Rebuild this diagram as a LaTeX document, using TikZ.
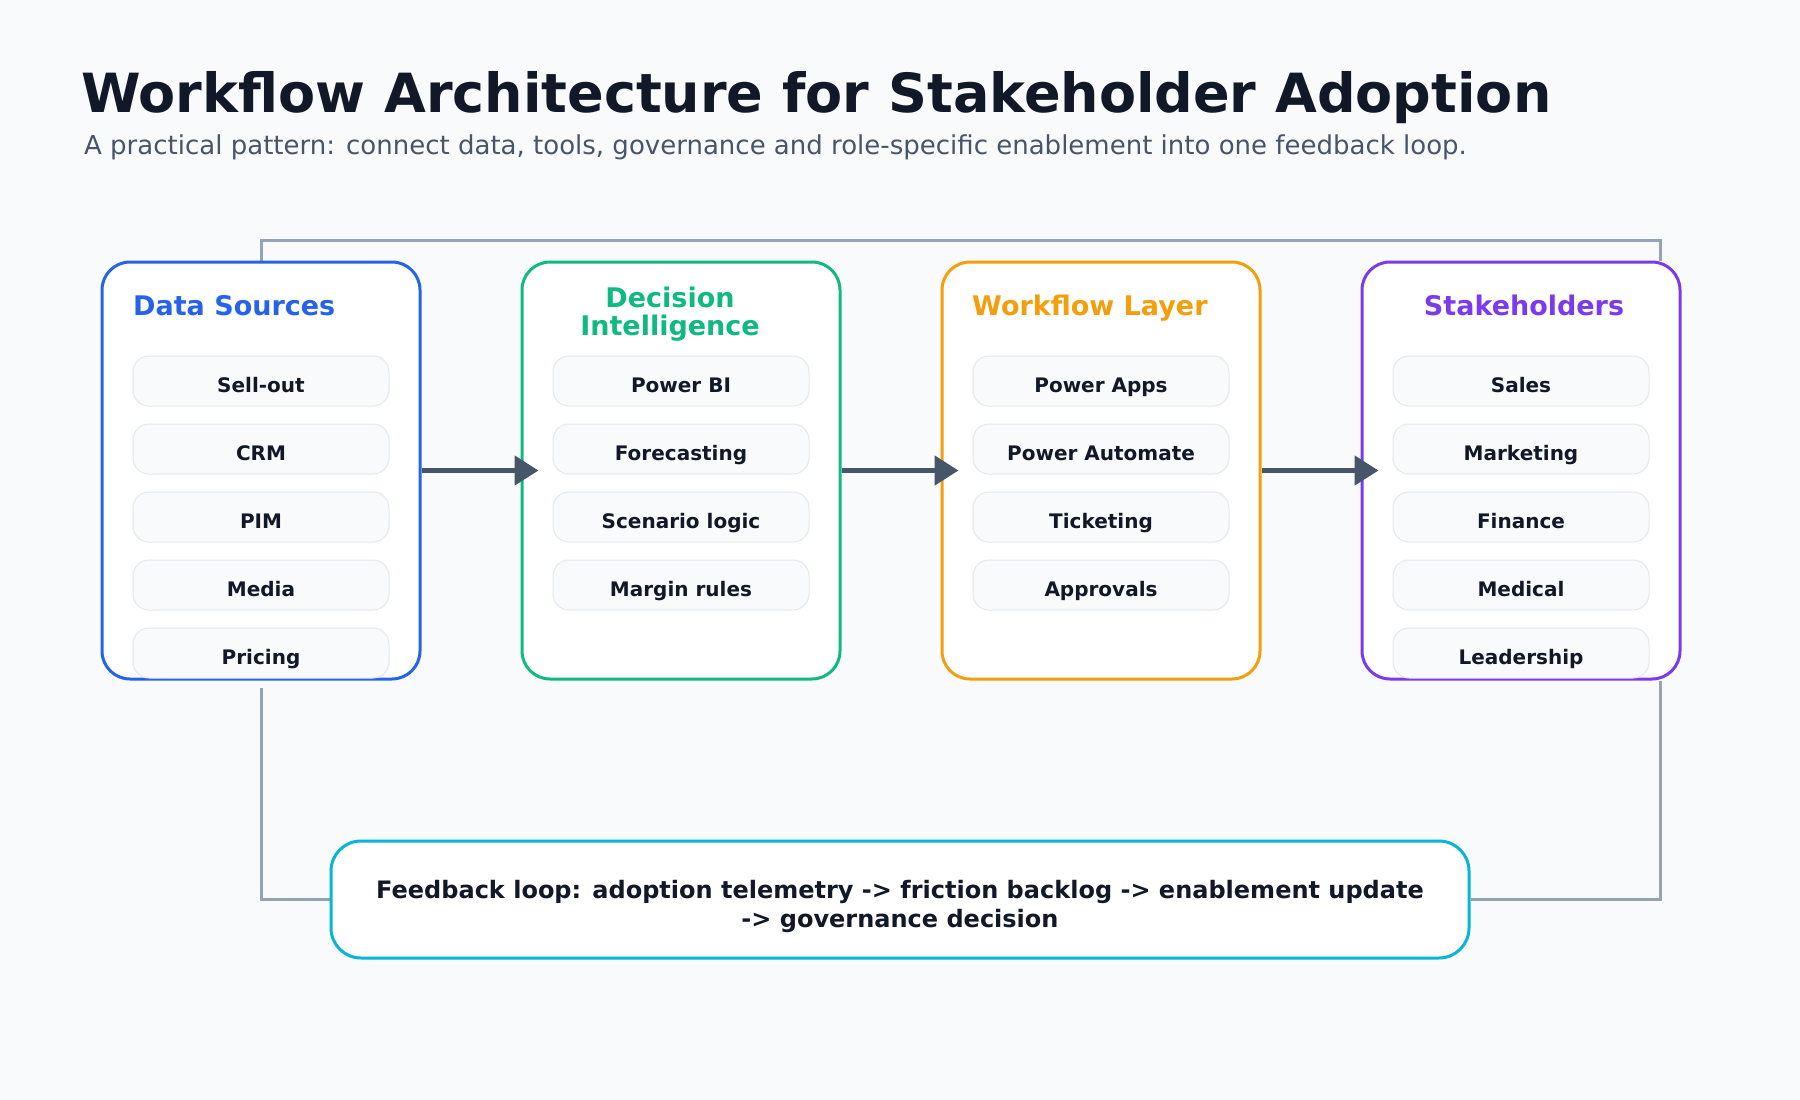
\documentclass[tikz,border=0pt]{standalone}
\usepackage{fontspec}
\setmainfont{DejaVu Sans}
\usetikzlibrary{arrows.meta,positioning,backgrounds}

\definecolor{bgcol}{HTML}{F8FAFC}
\definecolor{ink}{HTML}{111827}
\definecolor{subink}{HTML}{475569}
\definecolor{dsblue}{HTML}{2563EB}
\definecolor{digreen}{HTML}{10B981}
\definecolor{wforange}{HTML}{F59E0B}
\definecolor{shpurple}{HTML}{7C3AED}
\definecolor{fbcyan}{HTML}{06B6D4}
\definecolor{arrowcol}{HTML}{475569}
\definecolor{loopcol}{HTML}{94A3B8}
\definecolor{itemfill}{HTML}{F8FAFC}
\definecolor{itemline}{HTML}{E5E7EB}

\tikzset{
  panel/.style={draw, line width=3pt, fill=white, rounded corners=28pt,
    minimum width=318pt, minimum height=417pt},
  item/.style={draw=itemline, line width=1pt, fill=itemfill, rounded corners=16pt,
    minimum width=256pt, minimum height=50pt, text=ink,
    text height=22pt, text depth=0pt,
    font=\bfseries\fontsize{20}{24}\selectfont},
  ptitle/.style={font=\bfseries\fontsize{27}{28}\selectfont, inner sep=0pt},
  flow/.style={line width=5pt, draw=arrowcol, -{Triangle[length=24pt,width=29pt]},
    shorten >=-18pt},
  loopline/.style={line width=3pt, draw=loopcol},
  fbtext/.style={align=center, text=ink, inner sep=0pt,
    font=\bfseries\fontsize{24}{29}\selectfont},
}

\begin{document}
\begin{tikzpicture}[x=1pt, y=-1pt]

    \useasboundingbox (0,0) rectangle (1800,1100);

    % Heading
    \node[anchor=base west, inner sep=0pt, text=ink,
      font=\bfseries\fontsize{54}{60}\selectfont] (title) at (81,112)
      {Workflow Architecture for Stakeholder Adoption};
    \node[anchor=base west, inner sep=0pt, text=subink,
      font=\fontsize{26}{28}\selectfont] (subtitle) at (84,154)
      {A practical pattern: connect data, tools, governance and role-specific enablement into one feedback loop.};

    % Panels
    \node[panel, draw=dsblue] (ds) at (261,470.5) {};
    \node[panel, draw=digreen] (di) at (681,470.5) {};
    \node[panel, draw=wforange] (wf) at (1101,470.5) {};
    \node[panel, draw=shpurple] (sh) at (1521,470.5) {};

    % Panel titles
    \node[ptitle, text=dsblue, anchor=base west] (dsT) at (133,315) {Data Sources};
    \node[ptitle, text=digreen, align=center] (diT) at (670,314) {Decision\\Intelligence};
    \node[ptitle, text=wforange, anchor=base west] (wfT) at (972,315) {Workflow Layer};
    \node[ptitle, text=shpurple, anchor=base] (shT) at (1524,315) {Stakeholders};

    % Items
    \foreach \lbl [count=\i] in {Sell-out,CRM,PIM,Media,Pricing}
      \node[item] (ds\i) at (261,{381+68*(\i-1)}) {\lbl};
    \foreach \lbl [count=\i] in {Power BI,Forecasting,Scenario logic,Margin rules}
      \node[item] (di\i) at (681,{381+68*(\i-1)}) {\lbl};
    \foreach \lbl [count=\i] in {Power Apps,Power Automate,Ticketing,Approvals}
      \node[item] (wf\i) at (1101,{381+68*(\i-1)}) {\lbl};
    \foreach \lbl [count=\i] in {Sales,Marketing,Finance,Medical,Leadership}
      \node[item] (sh\i) at (1521,{381+68*(\i-1)}) {\lbl};

    % Flow arrows
    \draw[flow] (ds.east) -- (di.west);
    \draw[flow] (di.east) -- (wf.west);
    \draw[flow] (wf.east) -- (sh.west);

    % Feedback box
    \node[draw=fbcyan, line width=3pt, fill=white, rounded corners=30pt,
      minimum width=1138pt, minimum height=117pt,
      label={[fbtext, yshift=-7pt]center:{Feedback loop: adoption telemetry -> friction backlog -> enablement update\\-> governance decision}}]
      (fb) at (900,899.5) {};

    % Feedback loop (behind the panels)
    \coordinate (loopTR) at (1660,240);
    \begin{scope}[on background layer]
      \fill[bgcol] (0,0) rectangle (1800,1100);
      \draw[loopline] (ds.north) |- (loopTR) -- (loopTR |- sh.north);
      \draw[loopline, shorten >=7pt] (fb.west) -| (ds.south);
      \draw[loopline] (loopTR |- sh.south) |- (fb.east);
    \end{scope}

\end{tikzpicture}
\end{document}
